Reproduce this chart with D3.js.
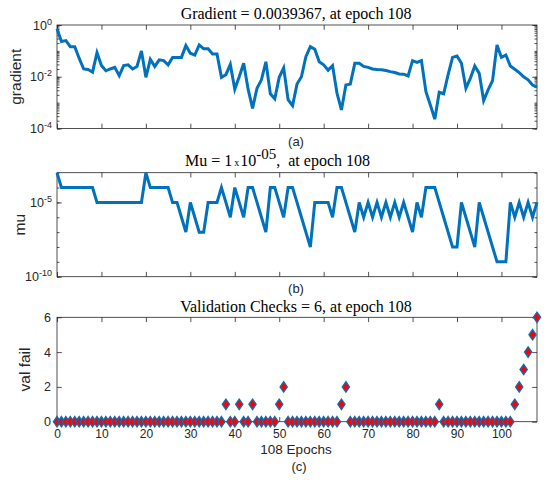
<!DOCTYPE html>
<html>
<head>
<meta charset="utf-8">
<script src="https://cdn.jsdelivr.net/npm/d3@7"></script>
<style>
  body { margin: 0; background: #fff; }
  svg { display: block; }
  .tick text, .lbl { font-family: "Liberation Sans", Arial, sans-serif; fill: #262626; }
  .title { font-family: "Liberation Serif", "Times New Roman", serif; fill: #000; }
  .tick line { stroke: #262626; stroke-width: 0.8; }
</style>
</head>
<body>
<svg id="chart" width="550" height="483"></svg>
<script>
// gradient per epoch (0..108)
const gradient = [
  0.71, 0.23, 0.25, 0.145, 0.145, 0.051, 0.020, 0.019, 0.015, 0.085,
  0.027, 0.017, 0.020, 0.023, 0.011, 0.027, 0.029, 0.020, 0.025, 0.10,
  0.0095, 0.047, 0.025, 0.045, 0.042, 0.029, 0.056, 0.056, 0.056, 0.16,
  0.081, 0.069, 0.17, 0.12, 0.12, 0.076, 0.076, 0.0095, 0.012, 0.030,
  0.0033, 0.010, 0.033, 0.0033, 0.0006, 0.0036, 0.0076, 0.038, 0.0022, 0.0014,
  0.0095, 0.022, 0.0013, 0.00076, 0.0052, 0.010, 0.060, 0.145, 0.115, 0.038,
  0.029, 0.018, 0.027, 0.0023, 0.00052, 0.0048, 0.0052, 0.033, 0.033, 0.025,
  0.023, 0.020, 0.019, 0.0186, 0.0174, 0.0158, 0.0145, 0.0129, 0.0126, 0.0107,
  0.042, 0.036, 0.042, 0.0027, 0.00081, 0.00023, 0.0025, 0.0022, 0.012, 0.056,
  0.063, 0.033, 0.0036, 0.0087, 0.026, 0.0135, 0.0012, 0.0031, 0.0071, 0.17,
  0.056, 0.069, 0.026, 0.0195, 0.0145, 0.010, 0.0076, 0.0048, 0.0039367
]

// mu per epoch
const mu = [
  1e-3, 1e-4, 1e-4, 1e-4, 1e-4, 1e-4, 1e-4, 1e-4, 1e-4, 1e-5,
  1e-5, 1e-5, 1e-5, 1e-5, 1e-5, 1e-5, 1e-5, 1e-5, 1e-5, 1e-5,
  1e-3, 1e-4, 1e-4, 1e-4, 1e-4, 1e-4, 1e-5, 1e-5, 1e-6, 1e-7,
  1e-5, 1e-6, 1e-7, 1e-7, 1e-5, 1e-5, 1e-5, 1e-4, 1e-5, 1e-6,
  1e-4, 1e-5, 1e-6, 1e-4, 1e-4, 1e-5, 1e-6, 1e-7, 1e-4, 1e-4,
  1e-5, 1e-6, 1e-4, 1e-4, 1e-5, 1e-6, 1e-7, 1e-8, 1e-5, 1e-5,
  1e-5, 1e-5, 1e-6, 1e-4, 1e-4, 1e-5, 1e-6, 1e-7, 1e-5, 1e-6,
  1e-5, 1e-6, 1e-5, 1e-6, 1e-5, 1e-6, 1e-5, 1e-6, 1e-5, 1e-6,
  1e-7, 1e-5, 1e-6, 1e-4, 1e-4, 1e-4, 1e-5, 1e-6, 1e-7, 1e-8,
  1e-8, 1e-5, 1e-6, 1e-7, 1e-8, 1e-5, 1e-6, 1e-7, 1e-8, 1e-9,
  1e-9, 1e-9, 1e-5, 1e-6, 1e-5, 1e-6, 1e-5, 1e-6, 1e-5
]

// validation fails per epoch
const valFail = [
  0, 0, 0, 0, 0, 0, 0, 0, 0, 0,
  0, 0, 0, 0, 0, 0, 0, 0, 0, 0,
  0, 0, 0, 0, 0, 0, 0, 0, 0, 0,
  0, 0, 0, 0, 0, 0, 0, 0, 1, 0,
  0, 1, 0, 0, 1, 0, 0, 0, 0, 0,
  1, 2, 0, 0, 0, 0, 0, 0, 0, 0,
  0, 0, 0, 0, 1, 2, 0, 0, 0, 0,
  0, 0, 0, 0, 0, 0, 0, 0, 0, 0,
  0, 0, 0, 0, 0, 0, 1, 0, 0, 0,
  0, 0, 0, 0, 0, 0, 0, 0, 0, 0,
  0, 0, 0, 1, 2, 3, 4, 5, 6
]

const xTicks = [0, 10, 20, 30, 40, 50, 60, 70, 80, 90, 100]
const gradMajor = [1e-4, 1e-2, 1e0]
const gradLabels = [["10", "-4"], ["10", "-2"], ["10", "0"]]
const muMajor = [1e-10, 1e-5]
const muLabels = [["10", "-10"], ["10", "-5"]]
const muMinor = [1e-10, 1e-9, 1e-8, 1e-7, 1e-6, 1e-5, 1e-4, 1e-3]
const valTicks = [0, 2, 4, 6]

const blue = "#0072BD"
const axisColor = "#262626"
const left = 57, right = 537
const tickLen = 4.8, minorLen = 2.5

const svg = d3.select("#chart")

const x = d3.scaleLinear().domain([0, 108]).range([left, right])

function frame(yScale, top, bottom, majors, minors) {
  let g = svg.append("g")

  // x ticks inward, bottom and top
  g.append("g").attr("transform", `translate(0,${bottom})`)
    .call(d3.axisBottom(x).tickValues(xTicks).tickSize(-tickLen).tickFormat(""))
    .call(a => a.select(".domain").remove())
  g.append("g").attr("transform", `translate(0,${top})`)
    .call(d3.axisTop(x).tickValues(xTicks).tickSize(-tickLen).tickFormat(""))
    .call(a => a.select(".domain").remove())

  // y ticks inward, left and right
  if (minors) {
    g.append("g").attr("transform", `translate(${left},0)`)
      .call(d3.axisLeft(yScale).tickValues(minors).tickSize(-minorLen).tickFormat(""))
      .call(a => a.select(".domain").remove())
    g.append("g").attr("transform", `translate(${right},0)`)
      .call(d3.axisRight(yScale).tickValues(minors).tickSize(-minorLen).tickFormat(""))
      .call(a => a.select(".domain").remove())
  }
  g.append("g").attr("transform", `translate(${left},0)`)
    .call(d3.axisLeft(yScale).tickValues(majors).tickSize(-tickLen).tickFormat(""))
    .call(a => a.select(".domain").remove())
  g.append("g").attr("transform", `translate(${right},0)`)
    .call(d3.axisRight(yScale).tickValues(majors).tickSize(-tickLen).tickFormat(""))
    .call(a => a.select(".domain").remove())

  g.append("rect")
    .attr("x", left).attr("y", top)
    .attr("width", right - left).attr("height", bottom - top)
    .attr("fill", "none").attr("stroke", axisColor).attr("stroke-width", 0.8)
}

function powLabels(yScale, majors, labels) {
  majors.forEach((v, i) => {
    let t = svg.append("text").attr("class", "lbl")
      .attr("x", 52).attr("y", yScale(v) + 4.5)
      .attr("text-anchor", "end")
      .style("font-size", "12.5px")
    t.append("tspan").text(labels[i][0])
    t.append("tspan").attr("dy", -5).style("font-size", "9px").text(labels[i][1])
  })
}

function yLabel(text, cx, cy) {
  svg.append("text").attr("class", "lbl")
    .attr("transform", `translate(${cx},${cy}) rotate(-90)`)
    .attr("text-anchor", "middle")
    .style("font-size", "15.5px")
    .text(text)
}

function subLabel(text, cx, y) {
  svg.append("text").attr("class", "lbl")
    .attr("x", cx).attr("y", y)
    .attr("text-anchor", "middle")
    .style("font-size", "13px")
    .text(text)
}

// ---------- (a) gradient ----------
let aTop = 25, aBottom = 128.5
let yGrad = d3.scaleLog().domain([1e-4, 1]).range([aBottom, aTop])
frame(yGrad, aTop, aBottom, gradMajor, yGrad.ticks())
powLabels(yGrad, gradMajor, gradLabels)

svg.append("path")
  .datum(gradient)
  .attr("fill", "none").attr("stroke", blue).attr("stroke-width", 3)
  .attr("d", d3.line().x((d, i) => x(i)).y(d => yGrad(d)))

svg.append("text").attr("class", "title")
  .attr("x", 296).attr("y", 19).attr("text-anchor", "middle")
  .style("font-size", "16px")
  .text("Gradient = 0.0039367, at epoch 108")
yLabel("gradient", 21, (aTop + aBottom) / 2)
subLabel("(a)", 296, 146)

// ---------- (b) mu ----------
let bTop = 172.7, bBottom = 276.7
let yMu = d3.scaleLog().domain([1e-10, 1e-3]).range([bBottom, bTop])
frame(yMu, bTop, bBottom, muMajor, muMinor)
powLabels(yMu, muMajor, muLabels)

svg.append("path")
  .datum(mu)
  .attr("fill", "none").attr("stroke", blue).attr("stroke-width", 3)
  .attr("d", d3.line().x((d, i) => x(i)).y(d => yMu(d)))

let muTitle = svg.append("text").attr("class", "title")
  .attr("x", 185).attr("y", 166)
  .style("font-size", "16px")
muTitle.append("tspan").text("Mu = 1")
muTitle.append("tspan").attr("dx", 2).style("font-size", "10px").text("x")
muTitle.append("tspan").attr("dx", 1).text("10")
muTitle.append("tspan").attr("dy", -7).style("font-size", "15px").text("-05")
muTitle.append("tspan").attr("dy", 7).text(",  at epoch 108")
  .attr("xml:space", "preserve")
yLabel("mu", 25, (bTop + bBottom) / 2)
subLabel("(b)", 296, 293)

// ---------- (c) validation checks ----------
let cTop = 317.3, cBottom = 421.7
let yVal = d3.scaleLinear().domain([0, 6]).range([cBottom, cTop])
frame(yVal, cTop, cBottom, valTicks, null)

svg.append("g").attr("transform", `translate(${left},0)`)
  .call(d3.axisLeft(yVal).tickValues(valTicks).tickFormat(d3.format("d")).tickSize(0).tickPadding(6))
  .call(a => a.select(".domain").remove())
  .selectAll("text").style("font-size", "12.5px")
svg.append("g").attr("transform", `translate(0,${cBottom})`)
  .call(d3.axisBottom(x).tickValues(xTicks).tickFormat(d3.format("d")).tickSize(0).tickPadding(7.5))
  .call(a => a.select(".domain").remove())
  .selectAll("text").style("font-size", "12px")

let diamond = d3.symbol().type(d3.symbolDiamond).size(32)
svg.append("g").selectAll("path")
  .data(valFail)
  .join("path")
  .attr("d", diamond)
  .attr("transform", (d, i) => `translate(${x(i)},${yVal(d)}) scale(1.2,1)`)
  .attr("fill", "#ff0000")
  .attr("stroke", blue)
  .attr("stroke-width", 1.1)

svg.append("text").attr("class", "title")
  .attr("x", 296).attr("y", 311.5).attr("text-anchor", "middle")
  .style("font-size", "16px")
  .text("Validation Checks = 6, at epoch 108")
yLabel("val fail", 30, (cTop + cBottom) / 2)

svg.append("text").attr("class", "lbl")
  .attr("x", 296).attr("y", 453.5).attr("text-anchor", "middle")
  .style("font-size", "13.5px")
  .text("108 Epochs")
subLabel("(c)", 299, 471)
</script>
</body>
</html>
